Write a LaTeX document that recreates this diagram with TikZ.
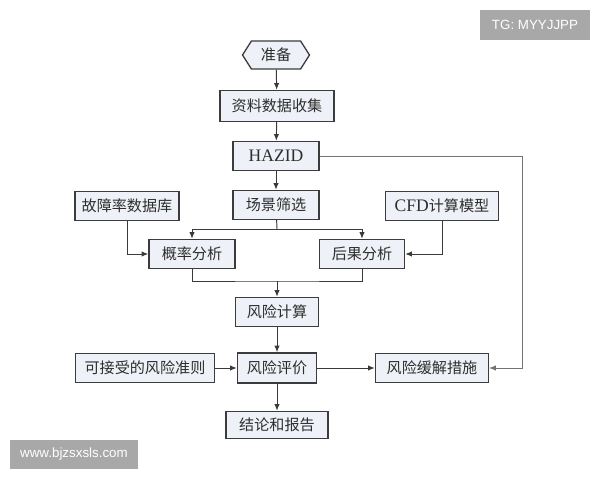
\documentclass[tikz,border=0pt]{standalone}
\usepackage{fontspec}
\usepackage{tikz}
\usetikzlibrary{arrows.meta,shapes.symbols}
\newfontfamily\cjk{Noto Sans CJK SC}
\newfontfamily\latn{Liberation Serif}
\newfontfamily\wmfont{Liberation Sans}
\definecolor{boxfill}{HTML}{EEF1F7}
\definecolor{boxline}{HTML}{3C3C3C}
\definecolor{lineclr}{HTML}{3A3A3A}
\definecolor{txtclr}{HTML}{2E2E2E}
\definecolor{wmgray}{HTML}{A8A8A8}
\tikzset{
  box/.style={draw=boxline, fill=boxfill, line width=0.75pt, minimum height=0.58cm, inner sep=0pt, text=txtclr, font=\cjk\fontsize{8.6}{10}\selectfont},
  flow/.style={draw=lineclr, line width=0.55pt, -{Latex[length=3.8pt,width=3pt]}},
  link/.style={draw=lineclr, line width=0.55pt},
  wmbox/.style={fill=wmgray, text=white, inner sep=0pt, font=\wmfont\fontsize{7.6}{8}\selectfont}
}
\begin{document}
\begin{tikzpicture}[x=0.02cm, y=-0.02cm]
	\useasboundingbox[fill=white] (0,0) rectangle (600,480);
	% main column
	\node[box, shape=signal, signal to=west and east, signal pointer angle=115, minimum width=1.34cm, minimum height=0.56cm] (zb) at (276,55) {准备};
	\node[box, minimum width=2.28cm, minimum height=0.62cm] (zl) at (277,106) {资料数据收集};
	\node[box, minimum width=1.72cm, font=\latn\fontsize{10}{11}\selectfont] (hazid) at (276,156) {HAZID};
	\node[box, minimum width=1.72cm] (cj) at (276,205) {场景筛选};
	\node[box, minimum width=2.08cm] (gz) at (127,206) {故障率数据库};
	\node[box, minimum width=2.26cm] (cfd) at (442,206) {{\latn\fontsize{10}{11}\selectfont CFD}计算模型};
	\node[box, minimum width=1.72cm] (gl) at (192,254) {概率分析};
	\node[box, minimum width=1.70cm] (hg) at (362,254) {后果分析};
	\node[box, minimum width=1.66cm] (fj) at (277,312) {风险计算};
	\node[box, minimum width=1.58cm, minimum height=0.6cm] (pj) at (277,368) {风险评价};
	\node[box, minimum width=2.04cm, minimum height=0.54cm] (hj) at (277,425) {结论和报告};
	\node[box, minimum width=2.78cm] (jz) at (145,368) {可接受的风险准则};
	\node[box, minimum width=2.26cm] (cs) at (432,368) {风险缓解措施};
	% helper points
	\coordinate (split) at (277,229);
	\coordinate (merge) at (277,281);
	\coordinate (corner) at (522,156);
	% connectors
	\draw[flow] (zb) -- (zl);
	\draw[flow] (zl) -- (hazid);
	\draw[flow] (hazid) -- (cj);
	\draw[link] (cj) -- (split);
	\draw[flow] (split) -| (gl);
	\draw[flow] (split) -| (hg);
	\draw[flow] (gz) |- (gl);
	\draw[flow] (cfd) |- (hg);
	\draw[link] (gl) |- (merge) -| (hg);
	\draw[flow] (merge) -- (fj);
	\draw[flow] (fj) -- (pj);
	\draw[flow] (jz) -- (pj);
	\draw[flow] (pj) -- (cs);
	\draw[flow] (pj) -- (hj);
	\draw[flow, line width=0.4pt, draw=gray!90!black] (hazid) -- (corner) |- (cs);
	% marks
	\node[wmbox, minimum width=2.2cm, minimum height=0.6cm] (tg) at (535,25) {TG: MYYJJPP};
	\node[wmbox, minimum width=2.56cm, minimum height=0.58cm] (www) at (74,454.5) {www.bjzsxsls.com};
\end{tikzpicture}
\end{document}
